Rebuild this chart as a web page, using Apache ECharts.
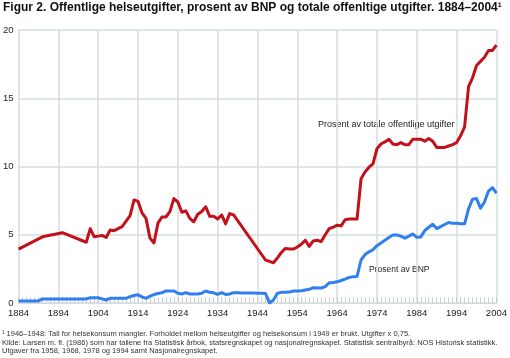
<!DOCTYPE html>
<html>
<head>
<meta charset="utf-8">
<script src="https://cdn.jsdelivr.net/npm/echarts@6/dist/echarts.min.js"></script>
<style>
html,body{margin:0;padding:0;background:#fff;}
#c{width:510px;height:358px;}
</style>
</head>
<body>
<div id="c"></div>
<script>
// Prosent av totale offentlige utgifter (red)
const redYears = [1884,1890,1895,1901,1902,1903,1904,1905,1906,1907,1908,1909,1910,1911,1912,1913,1914,1915,1916,1917,1918,1919,1920,1921,1922,1923,1924,1925,1926,1927,1928,1929,1930,1931,1932,1933,1934,1935,1936,1937,1938,
  1946,1947,1948,1949,1950,1951,1952,1953,1954,1955,1956,1957,1958,1959,1960,1961,1962,1963,1964,1965,1966,1967,1968,1969,1970,1971,1972,1973,1974,1975,1976,1977,1978,1979,1980,1981,1982,1983,1984,1985,1986,1987,1988,1989,1990,1991,1992,1993,1994,1995,1996,1997,1998,1999,2000,2001,2002,2003,2004];
const redShares = [3.95,4.85,5.15,4.45,5.45,4.85,4.9,4.95,4.8,5.35,5.3,5.45,5.6,6.0,6.4,7.55,7.45,6.6,6.2,4.75,4.4,5.85,6.3,6.3,6.7,7.65,7.4,6.65,6.75,6.2,5.95,6.5,6.7,7.05,6.35,6.35,6.15,6.45,5.8,6.55,6.45,
  3.15,3.05,2.95,3.3,3.7,4.0,3.95,3.95,4.1,4.3,4.6,4.15,4.55,4.6,4.5,5.0,5.45,5.55,5.7,5.65,6.1,6.15,6.15,6.15,9.1,9.6,9.95,10.2,11.3,11.65,11.8,12.0,11.65,11.6,11.75,11.6,11.6,12.0,12.0,12.0,11.85,12.05,11.85,11.4,11.4,11.4,11.5,11.6,11.75,12.25,12.9,15.85,16.5,17.4,17.7,18.0,18.5,18.5,18.9];

// Prosent av BNP (blue)
const blueYears = [1884,1885,1886,1887,1888,1889,1890,1891,1892,1893,1894,1895,1896,1897,1898,1899,1900,1901,1902,1903,1904,1905,1906,1907,1908,1909,1910,1911,1912,1913,1914,1915,1916,1917,1918,1919,1920,1921,1922,1923,1924,1925,1926,1927,1928,1929,1930,1931,1932,1933,1934,1935,1936,1937,1938,1939,1940,1941,1942,1943,1944,1945,1946,1947,1948,1949,1950,1951,1952,1953,1954,1955,1956,1957,1958,1959,1960,1961,1962,1963,1964,1965,1966,1967,1968,1969,1970,1971,1972,1973,1974,1975,1976,1977,1978,1979,1980,1981,1982,1983,1984,1985,1986,1987,1988,1989,1990,1991,1992,1993,1994,1995,1996,1997,1998,1999,2000,2001,2002,2003,2004];
const blueShares = [0.15,0.15,0.15,0.15,0.15,0.15,0.3,0.3,0.3,0.3,0.3,0.3,0.3,0.3,0.3,0.3,0.3,0.3,0.38,0.38,0.38,0.3,0.22,0.34,0.34,0.34,0.34,0.34,0.46,0.55,0.6,0.45,0.34,0.5,0.62,0.7,0.75,0.88,0.88,0.88,0.72,0.66,0.76,0.66,0.66,0.66,0.72,0.88,0.78,0.75,0.63,0.76,0.63,0.66,0.76,0.75,0.74,0.74,0.73,0.73,0.72,0.72,0.7,0.0,0.22,0.72,0.78,0.78,0.8,0.88,0.88,0.9,0.95,1.0,1.12,1.1,1.1,1.2,1.48,1.5,1.55,1.65,1.75,1.87,1.93,1.95,3.15,3.55,3.75,3.9,4.2,4.4,4.6,4.8,4.98,4.98,4.9,4.75,4.9,5.05,4.82,4.83,5.3,5.55,5.77,5.45,5.6,5.75,5.9,5.85,5.85,5.8,5.8,6.9,7.6,7.65,6.95,7.4,8.2,8.45,8.05];

const yTicks = [0,5,10,15,20];
const titleText = 'Figur 2. Offentlige helseutgifter, prosent av BNP og totale offenltige utgifter. 1884–2004¹';
const redLabel = 'Prosent av totale offentlige utgifter';
const blueLabel = 'Prosent av BNP';
const notes = [
  '¹ 1946–1948: Tall for helsekonsum mangler. Forholdet mellom helseutgifter og helsekonsum i 1949 er brukt. Utgifter x 0,75.',
  'Kilde: Larsen m. fl. (1986) som har tallene fra Statistisk årbok, statsregnskapet og nasjonalregnskapet. Statistisk sentralbyrå: NOS Historisk statistikk.',
  'Utgaver fra 1958, 1968, 1978 og 1994 samt Nasjonalregnskapet.'
];

const zip = (xs, ys) => xs.map((x, i) => [x, ys[i]]);
const font = "'Liberation Sans', Arial, sans-serif";
const gridCol = '#d6dcdc';

const chart = echarts.init(document.getElementById('c'), null, {renderer: 'canvas'});
chart.setOption({
  backgroundColor: '#fff',
  animation: false,
  grid: {left: 17.3, right: 12.7, top: 30, bottom: 55},
  xAxis: {
    type: 'value', min: 1884, max: 2004, interval: 10,
    axisLine: {show: true, lineStyle: {color: gridCol, width: 1}},
    axisTick: {show: true, inside: true, length: 6, lineStyle: {color: '#c9d0d4', width: 1}},
    minorTick: {show: true, splitNumber: 10, length: 6, lineStyle: {color: '#c9d0d4', width: 1}},
    splitLine: {show: true, lineStyle: {color: gridCol, width: 1.5}},
    axisLabel: {color: '#222', fontFamily: font, fontSize: 9.5, margin: 5, formatter: v => String(v)}
  },
  yAxis: {
    type: 'value', min: 0, max: 20, interval: 5,
    axisLine: {show: false},
    axisTick: {show: false},
    splitLine: {show: true, lineStyle: {color: gridCol, width: 1.5}},
    axisLabel: {color: '#222', fontFamily: font, fontSize: 9.5, margin: 5,
      formatter: v => yTicks.includes(v) ? String(v) : ''}
  },
  series: [
    {type: 'line', data: zip(redYears, redShares), symbol: 'none',
     lineStyle: {color: '#c1121c', width: 3, join: 'round'}, z: 3},
    {type: 'line', data: zip(blueYears, blueShares), symbol: 'none',
     lineStyle: {color: '#2f80ee', width: 3, join: 'round'}, z: 2}
  ],
  graphic: [
    {type: 'text', left: 3, top: 2, style: {text: titleText, font: 'bold 12px ' + font, fill: '#111'}},
    {type: 'text', left: 318, top: 120, style: {text: redLabel, font: '9px ' + font, fill: '#222'}},
    {type: 'text', left: 369, top: 265, style: {text: blueLabel, font: '8.5px ' + font, fill: '#222'}},
    {type: 'text', left: 2, top: 330, style: {text: notes[0], font: '7.5px ' + font, fill: '#333'}},
    {type: 'text', left: 2, top: 338.5, style: {text: notes[1], font: '7.5px ' + font, fill: '#333'}},
    {type: 'text', left: 2, top: 347, style: {text: notes[2], font: '7.5px ' + font, fill: '#333'}}
  ]
});
</script>
</body>
</html>
